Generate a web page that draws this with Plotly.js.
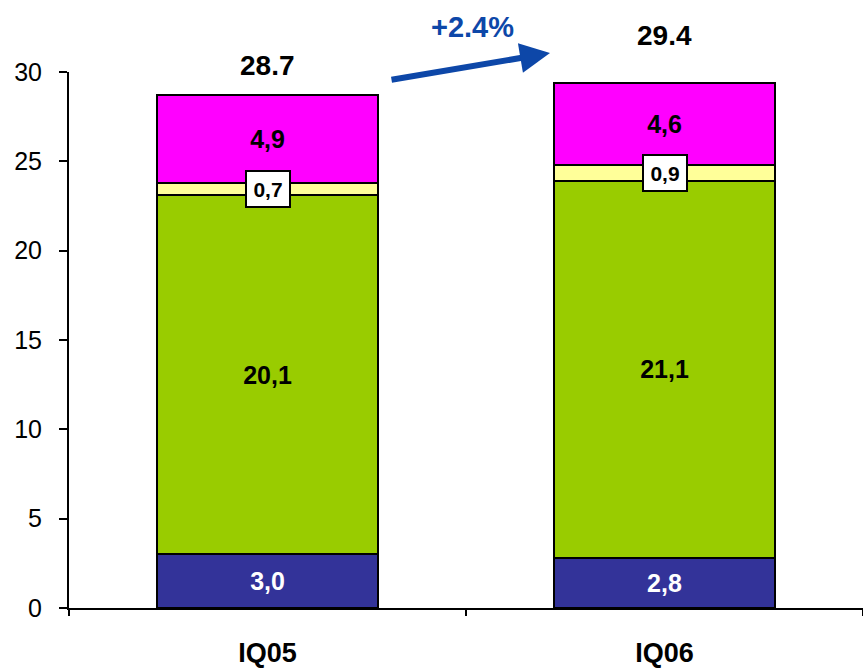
<!DOCTYPE html>
<html><head><meta charset="utf-8">
<script src="https://cdn.plot.ly/plotly-3.0.1.min.js"></script>
<style>html,body{margin:0;padding:0;background:#fff}#c{width:863px;height:670px}</style>
</head><body><div id="c"></div>
<script>
const categories = ['IQ05', 'IQ06'];
const seriesA = [3.0, 2.8];    // navy
const seriesB = [20.1, 21.1];  // green
const seriesC = [0.7, 0.9];    // yellow
const seriesD = [4.9, 4.6];    // magenta
const totals = [28.7, 29.4];
const growthLabel = '+2.4%';

const FONT = 'Arial, "Liberation Sans", sans-serif';
const fmt = v => v.toFixed(1).replace('.', ',');
const barW = 0.557;
const mk = (vals, color, txtColor) => ({
  type: 'bar', x: categories, y: vals, width: barW,
  marker: {color: color, line: {color: '#000', width: 2}},
  text: vals.map(v => '<b>' + fmt(v) + '</b>'), textposition: 'inside', insidetextanchor: 'middle',
  textangle: 0, constraintext: 'none',
  textfont: {family: FONT, size: 25, color: txtColor},
  hoverinfo: 'skip'
});
const tA = mk(seriesA, '#333399', '#ffffff');
const tB = mk(seriesB, '#99cc00', '#000000');
const tC = mk(seriesC, '#ffff99', '#000000'); tC.text = ['', '']; tC.textposition = 'none';
const tD = mk(seriesD, '#ff00ff', '#000000');

const ann = [];
categories.forEach((c, i) => {
  ann.push({x: c, y: seriesA[i] + seriesB[i] + seriesC[i] / 2, xref: 'x', yref: 'y',
    text: '<b>' + fmt(seriesC[i]) + '</b>', showarrow: false,
    font: {family: FONT, size: 21, color: '#000'},
    bgcolor: '#ffffff', bordercolor: '#000000', borderwidth: 2, borderpad: 4, width: 34, height: 26});
});
const totalShift = [30, 47];
categories.forEach((c, i) => {
  ann.push({x: c, y: totals[i], xref: 'x', yref: 'y', yanchor: 'middle', yshift: totalShift[i],
    text: '<b>' + totals[i].toFixed(1) + '</b>', showarrow: false,
    font: {family: FONT, size: 28, color: '#000'}});
});
ann.push({x: 0.6058, y: 1.0354, xref: 'paper', yref: 'paper', text: '', showarrow: true,
  ax: -160, ay: 27, axref: 'pixel', ayref: 'pixel', arrowhead: 2, arrowsize: 1.0, arrowwidth: 6,
  arrowcolor: '#0d47a8', standoff: 0});
ann.push({x: 0.508, y: 1.084, xref: 'paper', yref: 'paper', xanchor: 'center', yanchor: 'middle',
  text: '<b>' + growthLabel + '</b>',
  showarrow: false, font: {family: FONT, size: 29, color: '#0d47a8'}});

const layout = {
  width: 863, height: 670, barmode: 'stack', showlegend: false,
  paper_bgcolor: '#fff', plot_bgcolor: '#fff',
  margin: {l: 69, r: 0, t: 72, b: 62},
  font: {family: FONT, color: '#000'},
  xaxis: {type: 'category', showline: true, linecolor: '#000', linewidth: 2,
    ticks: 'outside', ticklen: 6, tickwidth: 2, tickcolor: '#000', tickson: 'boundaries',
    tickvals: categories, ticktext: categories.map(c => '<b>' + c + '</b>'),
    tickfont: {family: FONT, size: 27, color: '#000'}, ticklabelstandoff: 20, showgrid: false, zeroline: false, fixedrange: true},
  yaxis: {range: [0, 30], dtick: 5, showline: true, linecolor: '#000', linewidth: 2,
    ticks: 'outside', ticklen: 8, tickwidth: 2, tickcolor: '#000',
    tickfont: {family: FONT, size: 25, color: '#000'}, ticklabelstandoff: 12, showgrid: false, zeroline: false},
  annotations: ann
};
Plotly.newPlot('c', [tA, tB, tC, tD], layout, {displayModeBar: false, staticPlot: true});
</script></body></html>
